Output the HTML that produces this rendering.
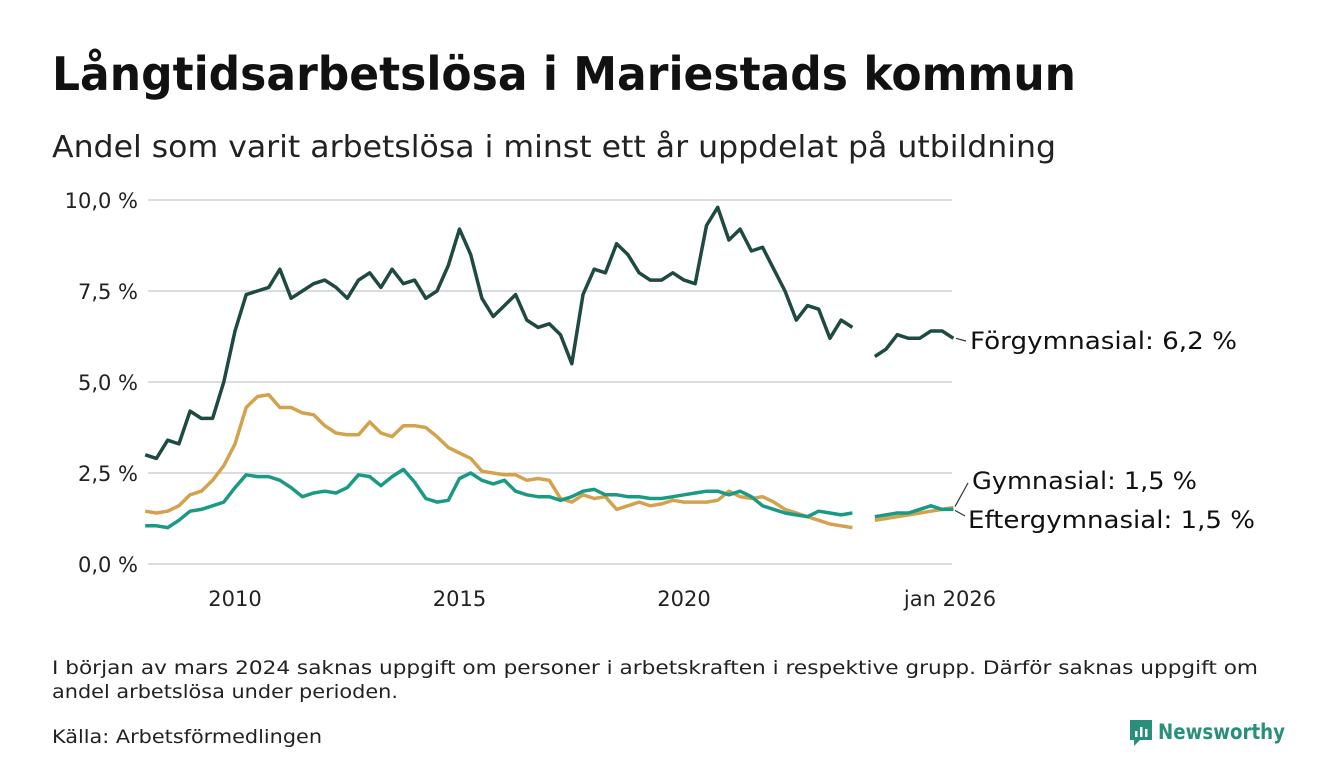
<!DOCTYPE html>
<html><head><meta charset="utf-8"><style>
body{margin:0;background:#fff}
svg{display:block;font-family:"DejaVu Sans","Liberation Sans",sans-serif}
</style></head><body>
<svg id="c" width="1340" height="780">
<text x="52" y="90" font-size="46" font-weight="bold" fill="#111" textLength="1024" lengthAdjust="spacingAndGlyphs">Långtidsarbetslösa i Mariestads kommun</text>
<text x="52" y="157" font-size="30" fill="#222" textLength="1004" lengthAdjust="spacingAndGlyphs">Andel som varit arbetslösa i minst ett år uppdelat på utbildning</text>
<g id="grid"></g><g id="lines"></g><g id="labels"></g>
<text x="52" y="674" font-size="19" fill="#222" textLength="1206" lengthAdjust="spacingAndGlyphs">I början av mars 2024 saknas uppgift om personer i arbetskraften i respektive grupp. Därför saknas uppgift om</text>
<text x="52" y="698" font-size="19" fill="#222" textLength="346" lengthAdjust="spacingAndGlyphs">andel arbetslösa under perioden.</text>
<text x="52" y="743" font-size="19" fill="#222" textLength="270" lengthAdjust="spacingAndGlyphs">Källa: Arbetsförmedlingen</text>
<g>
<path d="M1130 720h22v20h-12l-6 6v-6h-4z" fill="#2a8f7a"/>
<rect x="1135" y="731" width="2.5" height="6" fill="#fff"/><rect x="1140" y="727" width="2.5" height="10" fill="#fff"/><rect x="1145" y="729" width="2.5" height="8" fill="#fff"/>
<text x="1158" y="739" font-size="21" font-weight="bold" fill="#2a8f7a" textLength="127" lengthAdjust="spacingAndGlyphs">Newsworthy</text>
</g>
</svg>
<script>
const years=[2010,2015,2020];
const yTicks=[0,2.5,5,7.5,10];
const yTickLabels=["0,0 %","2,5 %","5,0 %","7,5 %","10,0 %"];
const startYear=2008, step=0.25;
const forgymnasial=[3.0,2.9,3.4,3.3,4.2,4.0,4.0,5.0,6.4,7.4,7.5,7.6,8.1,7.3,7.5,7.7,7.8,7.6,7.3,7.8,8.0,7.6,8.1,7.7,7.8,7.3,7.5,8.2,9.2,8.5,7.3,6.8,7.1,7.4,6.7,6.5,6.6,6.3,5.5,7.4,8.1,8.0,8.8,8.5,8.0,7.8,7.8,8.0,7.8,7.7,9.3,9.8,8.9,9.2,8.6,8.7,8.1,7.5,6.7,7.1,7.0,6.2,6.7,6.5,null,5.7,5.9,6.3,6.2,6.2,6.4,6.4,6.2];
const gymnasial=[1.45,1.4,1.45,1.6,1.9,2.0,2.3,2.7,3.3,4.3,4.6,4.65,4.3,4.3,4.15,4.1,3.8,3.6,3.55,3.55,3.9,3.6,3.5,3.8,3.8,3.75,3.5,3.2,3.05,2.9,2.55,2.5,2.45,2.45,2.3,2.35,2.3,1.8,1.7,1.9,1.8,1.85,1.5,1.6,1.7,1.6,1.65,1.75,1.7,1.7,1.7,1.75,2.0,1.85,1.8,1.85,1.7,1.5,1.4,1.3,1.2,1.1,1.05,1.0,null,1.2,1.25,1.3,1.35,1.4,1.45,1.5,1.55];
const eftergymnasial=[1.05,1.05,1.0,1.2,1.45,1.5,1.6,1.7,2.1,2.45,2.4,2.4,2.3,2.1,1.85,1.95,2.0,1.95,2.1,2.45,2.4,2.15,2.4,2.6,2.25,1.8,1.7,1.75,2.35,2.5,2.3,2.2,2.3,2.0,1.9,1.85,1.85,1.75,1.85,2.0,2.05,1.9,1.9,1.85,1.85,1.8,1.8,1.85,1.9,1.95,2.0,2.0,1.9,2.0,1.85,1.6,1.5,1.4,1.35,1.3,1.45,1.4,1.35,1.4,null,1.3,1.35,1.4,1.4,1.5,1.6,1.5,1.5];
const NS="http://www.w3.org/2000/svg";
const X=y=>235+(y-2010)*44.9;
const Y=v=>564-v*36.4;
function mk(t,a,p){const e=document.createElementNS(NS,t);for(const k in a)e.setAttribute(k,a[k]);p.appendChild(e);return e;}
const g=document.getElementById('grid');
yTicks.forEach((v,i)=>{
 const l=mk('line',{x1:148,x2:952,y1:Y(v),y2:Y(v),stroke:'#dcdce0','stroke-width':2},g);
 
 
 const t=mk('text',{x:138,y:Y(v)+8,'font-size':21,'text-anchor':'end',fill:'#222'},g);
 t.textContent=yTickLabels[i];
 
 
});
years.forEach(y=>{
 const t=mk('text',{x:X(y),y:606,'font-size':21,'text-anchor':'middle',fill:'#222'},g);
 t.textContent=String(y);
 
 
});
const tl=mk('text',{x:950,y:606,'font-size':21,'text-anchor':'middle',fill:'#222'},g);
tl.textContent='jan 2026';


function line(arr,col,name){
 let d='',pen=false;
 arr.forEach((v,i)=>{ if(v==null){pen=false;return;} d+=(pen?'L':'M')+X(startYear+i*step).toFixed(1)+' '+Y(v).toFixed(1);pen=true;});
 const p=mk('path',{d:d,fill:'none',stroke:col,'stroke-width':3.5,'stroke-linejoin':'round'},document.getElementById('lines'));
 
 
}
line(gymnasial,'#d4a24c','line-gymnasial');
line(eftergymnasial,'#1a9a85','line-eftergymnasial');
line(forgymnasial,'#1f4a42','line-forgymnasial');
const L=document.getElementById('labels');
function lastVal(a){for(let i=a.length-1;i>=0;i--)if(a[i]!=null)return a[i];return 0;}
function lab(txt,x,y,w,name,ln){
 const t=mk('text',{x:x,y:y,'font-size':24,fill:'#111',textLength:w,lengthAdjust:'spacingAndGlyphs'},L);
 t.textContent=txt;
 
 
 const l=mk('line',Object.assign({stroke:'#333','stroke-width':1.2},ln),L);
 
 
}
lab('Förgymnasial: 6,2 %',970,349,267,'label-forgymnasial',{x1:956,y1:Y(lastVal(forgymnasial)),x2:966,y2:341});
lab('Gymnasial: 1,5 %',972,489,225,'label-gymnasial',{x1:955,y1:Y(lastVal(gymnasial))-1,x2:968,y2:483});
lab('Eftergymnasial: 1,5 %',968,528,287,'label-eftergymnasial',{x1:955,y1:Y(lastVal(eftergymnasial))+1,x2:965,y2:516});
</script>
</body></html>
